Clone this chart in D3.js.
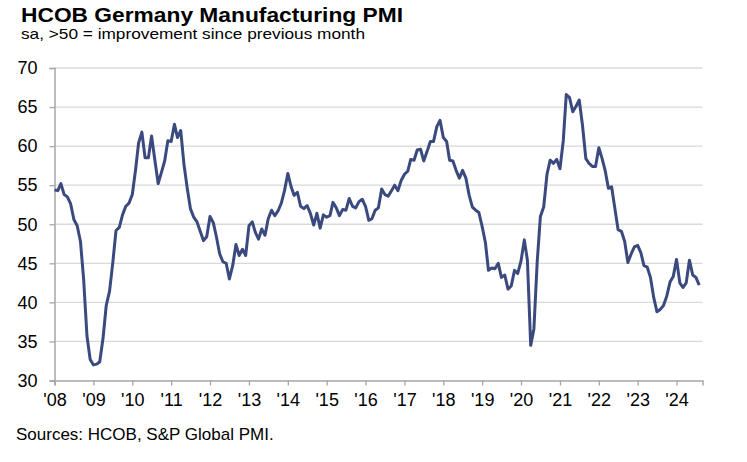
<!DOCTYPE html>
<html>
<head>
<meta charset="utf-8">
<script src="https://cdn.jsdelivr.net/npm/d3@7"></script>
<style>
  body { margin: 0; background: #fff; }
  svg { font-family: "Liberation Sans", Arial, sans-serif; }
</style>
</head>
<body>
<svg width="747" height="462"></svg>
<script>
// monthly PMI readings, Jan 2008 onwards
let startYear = 2008;
let pmi = [
  54.4, 54.3, 55.2, 53.8, 53.5, 52.6, 50.6, 49.8, 47.8, 42.9, 35.7, 32.7, // 2008
  32.0, 32.1, 32.4, 35.4, 39.6, 41.4, 45.0, 49.2, 49.6, 51.2, 52.3, 52.7, // 2009
  53.8, 57.0, 60.4, 61.8, 58.5, 58.5, 61.3, 58.2, 55.2, 56.6, 58.1, 60.7, // 2010
  60.6, 62.8, 61.1, 62.0, 57.7, 54.6, 52.0, 50.9, 50.3, 49.1, 47.9, 48.4, // 2011
  51.0, 50.2, 48.4, 46.2, 45.2, 45.0, 43.0, 44.7, 47.4, 46.0, 46.8, 46.0, // 2012
  49.8, 50.3, 49.0, 48.1, 49.4, 48.6, 50.7, 51.8, 51.1, 51.7, 52.7, 54.3, // 2013
  56.5, 54.8, 53.7, 54.1, 52.3, 52.0, 52.4, 51.4, 49.9, 51.4, 49.5, 51.2, // 2014
  50.9, 51.1, 52.8, 52.1, 51.1, 51.9, 51.8, 53.3, 52.3, 52.1, 52.9, 53.2, // 2015
  52.3, 50.5, 50.7, 51.8, 52.1, 54.5, 53.8, 53.6, 54.3, 55.0, 54.3, 55.6, // 2016
  56.4, 56.8, 58.3, 58.2, 59.5, 59.6, 58.1, 59.3, 60.6, 60.6, 62.5, 63.3, // 2017
  61.1, 60.6, 58.2, 58.1, 56.9, 55.9, 56.9, 55.9, 53.7, 52.2, 51.8, 51.5, // 2018
  49.7, 47.6, 44.1, 44.4, 44.3, 45.0, 43.2, 43.5, 41.7, 42.1, 44.1, 43.7, // 2019
  45.3, 48.0, 45.4, 34.5, 36.6, 45.2, 51.0, 52.2, 56.4, 58.2, 57.8, 58.3, // 2020
  57.1, 60.7, 66.6, 66.2, 64.4, 65.1, 65.9, 62.6, 58.4, 57.8, 57.4, 57.4, // 2021
  59.8, 58.4, 56.9, 54.6, 54.8, 52.0, 49.3, 49.1, 47.8, 45.1, 46.2, 47.1, // 2022
  47.3, 46.3, 44.7, 44.5, 43.2, 40.6, 38.8, 39.1, 39.6, 40.8, 42.6, 43.3, // 2023
  45.5, 42.5, 41.9, 42.5, 45.4, 43.5, 43.2, 42.2                          // 2024
];
let yTicks = [30, 35, 40, 45, 50, 55, 60, 65, 70];
let xTickYears = [2008, 2009, 2010, 2011, 2012, 2013, 2014, 2015, 2016,
  2017, 2018, 2019, 2020, 2021, 2022, 2023, 2024];

let svg = d3.select("svg");

let data = pmi.map((v, i) => ({ date: new Date(startYear, i, 1), value: v }));

let x = d3
  .scaleTime()
  .domain([new Date(2008, 0, 1), new Date(2024, 8, 1)])
  .range([54.5, 702.5]);

let y = d3.scaleLinear().domain([30, 70]).range([380.5, 68]);

// gridlines
svg
  .append("g")
  .selectAll("line")
  .data(yTicks.filter((t) => t > 30))
  .enter()
  .append("line")
  .attr("x1", x.range()[0])
  .attr("x2", x.range()[1])
  .attr("y1", (d) => y(d))
  .attr("y2", (d) => y(d))
  .style("stroke", "#d9d9d9")
  .attr("stroke-width", 1.3);

// y axis
let yAxis = svg
  .append("g")
  .attr("transform", `translate(${x.range()[0]},0)`)
  .call(d3.axisLeft(y).tickValues(yTicks).tickSize(5).tickPadding(12));

// x axis
let xAxis = svg
  .append("g")
  .attr("transform", `translate(0,${y(30)})`)
  .call(
    d3
      .axisBottom(x)
      .tickValues(xTickYears.map((yr) => new Date(yr, 0, 1)))
      .tickFormat((d) => "'" + String(d.getFullYear()).slice(2))
      .tickSize(5)
      .tickPadding(8)
  );

[yAxis, xAxis].forEach((g) => {
  g.select(".domain").attr("stroke", "#a6a6a6").attr("stroke-width", 1.5);
  g.selectAll(".tick line").attr("stroke", "#a6a6a6").attr("stroke-width", 1.3);
  g.selectAll(".tick text")
    .attr("fill", "#000")
    .style("font-size", "18px")
    .style("font-family", "'Liberation Sans', Arial, sans-serif");
});

// series line
let line = d3
  .line()
  .x((d) => x(d.date))
  .y((d) => y(d.value));

svg
  .append("path")
  .datum(data)
  .attr("d", line)
  .attr("fill", "none")
  .style("stroke", "#3b4a7e")
  .attr("stroke-width", 3)
  .attr("stroke-linejoin", "round");

// titles
svg
  .append("text")
  .attr("x", 21)
  .attr("y", 21.5)
  .style("font-size", "20px")
  .style("font-weight", "bold")
  .attr("textLength", 382)
  .attr("lengthAdjust", "spacingAndGlyphs")
  .text("HCOB Germany Manufacturing PMI");

svg
  .append("text")
  .attr("x", 21)
  .attr("y", 39)
  .style("font-size", "15px")
  .attr("textLength", 344)
  .attr("lengthAdjust", "spacingAndGlyphs")
  .text("sa, >50 = improvement since previous month");

svg
  .append("text")
  .attr("x", 16)
  .attr("y", 440)
  .style("font-size", "17px")
  .text("Sources: HCOB, S&P Global PMI.");
</script>
</body>
</html>
